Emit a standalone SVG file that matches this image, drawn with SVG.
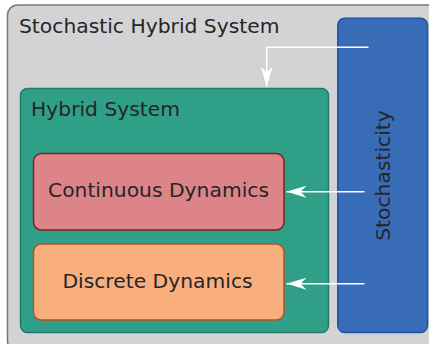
<svg xmlns="http://www.w3.org/2000/svg" width="429" height="344" viewBox="0 0 429 344">
<style>
text{font-family:"DejaVu Sans","Liberation Sans",sans-serif;font-size:20.3px;fill:#262626}
.conn{fill:none;stroke:#ffffff;stroke-width:1.5}
</style>
<defs>
<marker id="ah" markerUnits="userSpaceOnUse" viewBox="-20 -6 20 12" refX="0" refY="0" markerWidth="20" markerHeight="12" orient="auto">
<path d="M0,0 L-20,-6 L-14,0 L-20,6 Z" fill="#ffffff"/>
</marker>
</defs>
<g id="stochastic-hybrid-system">
<rect x="7.5" y="5" width="432" height="346" rx="10" fill="#d3d3d5" stroke="#777777" stroke-width="1.5"/>
<text x="19" y="33">Stochastic Hybrid System</text>
</g>
<g id="hybrid-system">
<rect x="20.5" y="88.5" width="308" height="244" rx="7" fill="#2fa087" stroke="#217a67" stroke-width="1.5"/>
<text x="31" y="116">Hybrid System</text>
</g>
<g id="continuous-dynamics">
<rect x="33.5" y="153.5" width="250.5" height="76.5" rx="8" fill="#dc8487" stroke="#8b1a1f" stroke-width="1.5"/>
<text x="158.5" y="197" text-anchor="middle">Continuous Dynamics</text>
</g>
<g id="discrete-dynamics">
<rect x="33.5" y="244" width="250.5" height="76" rx="8" fill="#f9ae7e" stroke="#b5522b" stroke-width="1.5"/>
<text x="157.5" y="288" text-anchor="middle">Discrete Dynamics</text>
</g>
<g id="stochasticity">
<rect x="337.8" y="18.3" width="89.7" height="314.2" rx="7" fill="#396cb7" stroke="#2350a6" stroke-width="1.5"/>
<text transform="translate(390,175.5) rotate(-90)" text-anchor="middle">Stochasticity</text>
</g>
<g id="connectors">
<path class="conn" d="M368.5,47.3 H266.7 V86.5" marker-end="url(#ah)"/>
<path class="conn" d="M364.5,191.7 H286.5" marker-end="url(#ah)"/>
<path class="conn" d="M364.5,283.7 H286.5" marker-end="url(#ah)"/>
</g>
</svg>
